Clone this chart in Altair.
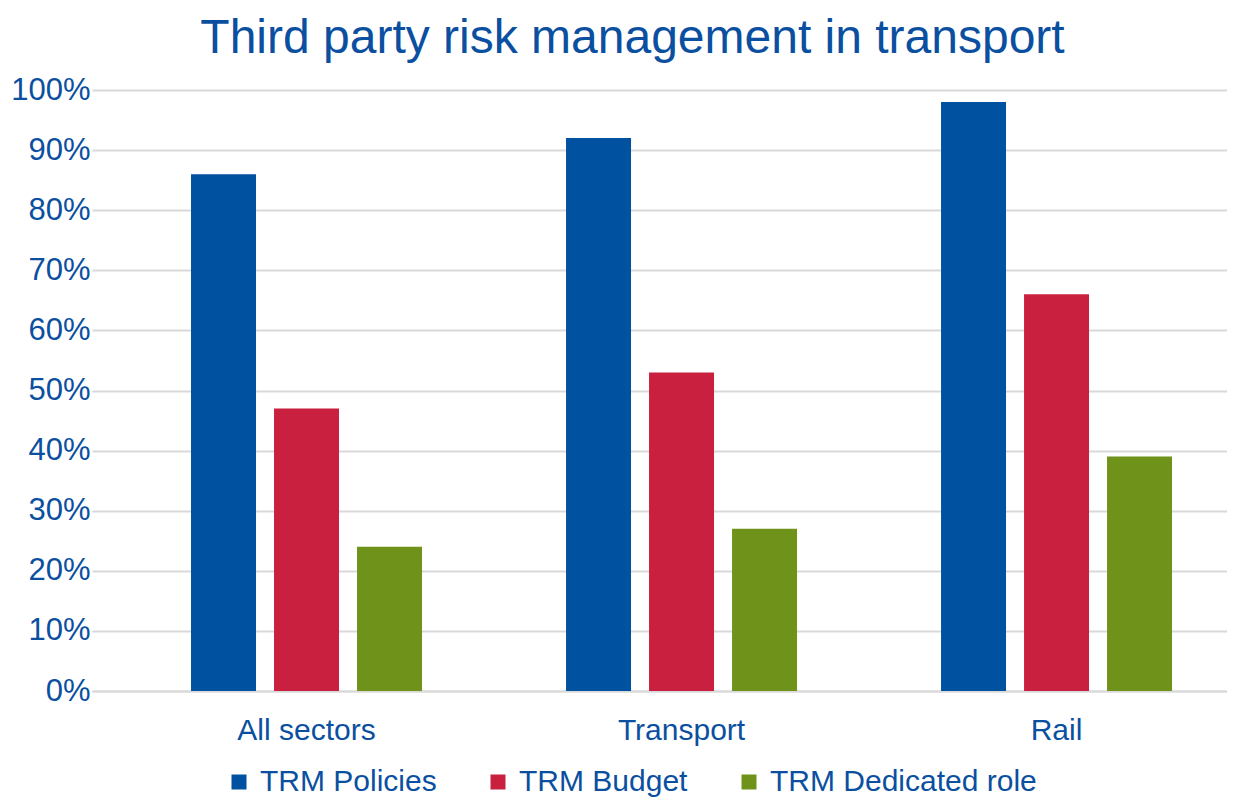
import altair as alt
import pandas as pd

categories = ["All sectors", "Transport", "Rail"]
series = ["TRM Policies", "TRM Budget", "TRM Dedicated role"]
policies = [0.86, 0.92, 0.98]
budget = [0.47, 0.53, 0.66]
dedicated = [0.24, 0.27, 0.39]
colors = ["#0051A0", "#CA2040", "#6F921B"]
y_ticks = [0, 0.1, 0.2, 0.3, 0.4, 0.5, 0.6, 0.7, 0.8, 0.9, 1.0]

TEXT = "#0B4FA0"
GRID = "#D9D9D9"
FONT = "Liberation Sans"

rows = []
for i, c in enumerate(categories):
    for s, vals in zip(series, [policies, budget, dedicated]):
        rows.append({"category": c, "series": s, "value": vals[i]})
df = pd.DataFrame(rows)

chart = alt.Chart(df).mark_bar().encode(
    x=alt.X("category:N", sort=categories,
            scale=alt.Scale(paddingInner=0.336, paddingOuter=0.1813, align=0.662),
            axis=alt.Axis(title=None, labelAngle=0, labelFontSize=30, labelColor=TEXT,
                          labelFont=FONT, labelPadding=24, domainColor=GRID, domainWidth=2,
                          ticks=False, grid=False)),
    xOffset=alt.XOffset("series:N", sort=series,
                        scale=alt.Scale(paddingInner=0.217, paddingOuter=0.1085)),
    y=alt.Y("value:Q", scale=alt.Scale(domain=[0, 1]),
            axis=alt.Axis(title=None, values=y_ticks, format=".0%", labelFontSize=31,
                          labelColor=TEXT, labelFont=FONT, labelPadding=2, domain=False,
                          ticks=False, gridColor=GRID, gridWidth=2)),
    color=alt.Color("series:N", sort=series,
                    scale=alt.Scale(domain=series, range=colors),
                    legend=alt.Legend(title=None, orient="none", legendX=132, legendY=677,
                                      direction="horizontal", symbolType="square",
                                      symbolSize=225, symbolStrokeWidth=0,
                                      labelFontSize=30, labelColor=TEXT, labelFont=FONT,
                                      labelOffset=6, columnPadding=46, labelLimit=600)),
).properties(
    width=1135, height=601,
    title=alt.TitleParams("Third party risk management in transport", fontSize=48,
                          font=FONT, color=TEXT, fontWeight="normal", anchor="middle",
                          dx=-27, offset=11),
    autosize=alt.AutoSizeParams(type="none"),
    padding={"left": 84, "top": 82, "right": 0, "bottom": 107},
).configure_view(stroke=None)

chart.save("out.html", embed_options={"renderer": "svg", "actions": False})
